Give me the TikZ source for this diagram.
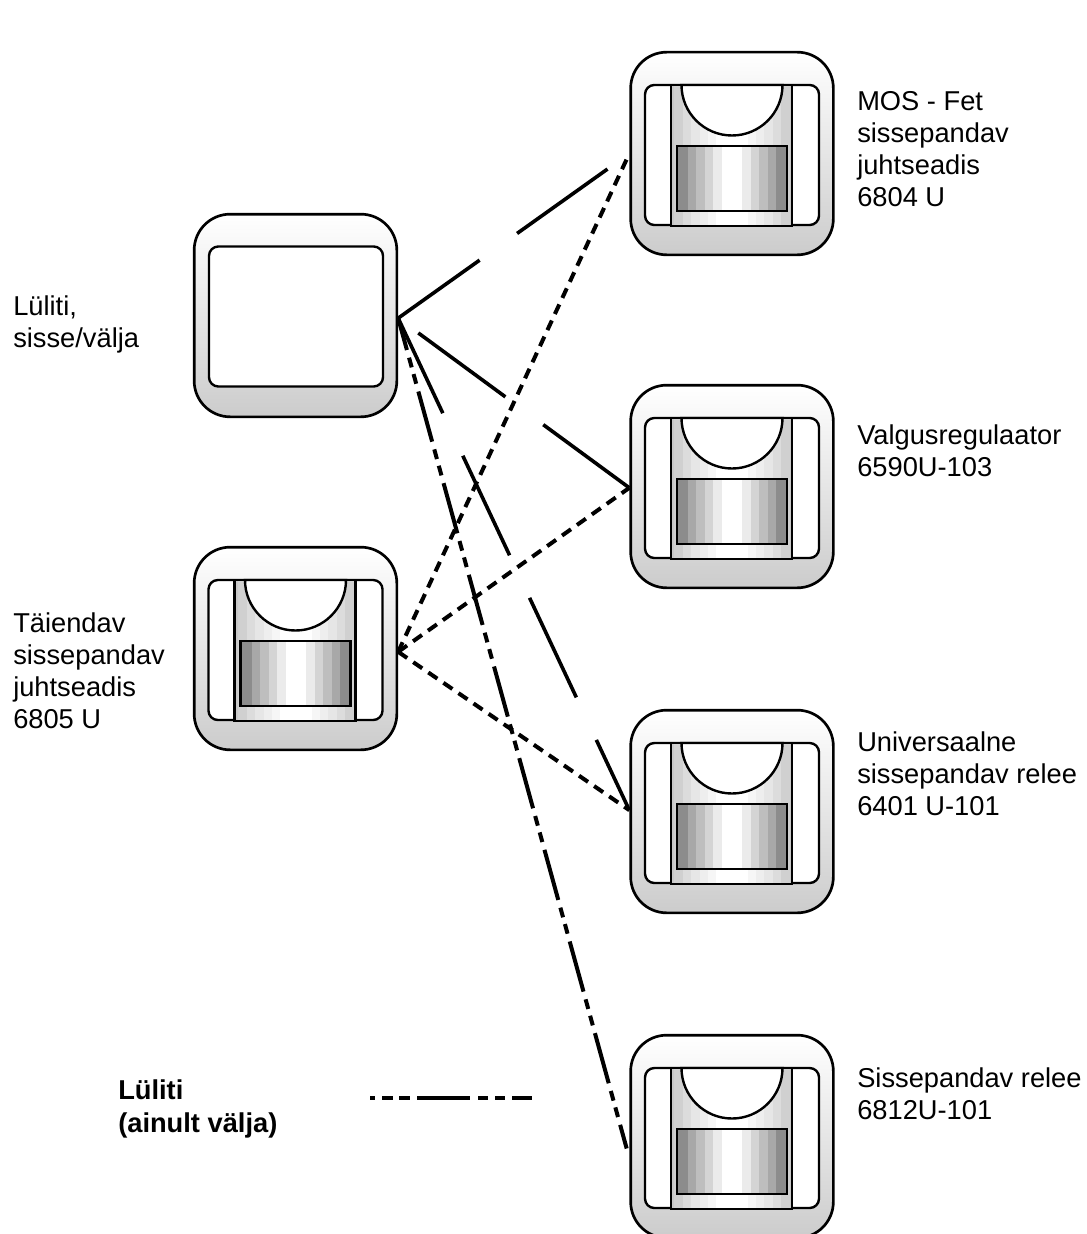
\documentclass[tikz,border=0pt]{standalone}
\usepackage{fontspec}
\setmainfont{Liberation Sans}
\begin{document}
\begin{tikzpicture}[x=0.75pt,y=-0.75pt,
  outerbox/.style={draw=black,line width=2pt,rounded corners=27pt,minimum width=152pt,minimum height=152pt,inner sep=0pt,
    top color=white,middle color=white!92!black,bottom color=black!20},
  innerbox/.style={draw=black,line width=1.8pt,fill=white,rounded corners=7pt},
  label/.style={anchor=west,align=left,inner sep=0pt,font=\fontsize{20.45pt}{24pt}\selectfont},
  boldlabel/.style={label,font=\fontsize{20.45pt}{24.6pt}\selectfont\bfseries},
  wire/.style={line width=2.7pt,draw=black},
  dots/.style={wire,line width=3pt,dash pattern=on 7.9pt off 5.4pt},
  dotsb/.style={wire,line width=3pt,dash pattern=on 8.2pt off 5.5pt},
  dashdot/.style={wire,line width=3pt,dash pattern=on 39pt off 6pt on 7.5pt off 5.25pt on 7.5pt off 6.05pt,dash phase=14.25pt},
  sensor/.pic={
    \path[innerbox] (-87,-68.5) rectangle (87,71.5);
    \foreach \w/\c in {61/200,58/208,49/220,41/230,32/238,24/246,16/255}{
      \definecolor{bandc}{RGB}{\c,\c,\c}
      \fill[bandc] (-\w,-68.5) rectangle (\w,72.5);
    }
    \draw[black,line width=1.8pt] (-61,-68.5) -- (-61,72.5) -- (60,72.5) -- (60,-68.5) -- cycle;
    \draw[black,line width=1.8pt,fill=white] (-50.5,-68.5) arc[start angle=180,end angle=0,radius=50.5] -- cycle;
    \foreach \w/\c in {55/140,44/168,36/190,27/212,19/235,10/255}{
      \definecolor{bandd}{RGB}{\c,\c,\c}
      \fill[bandd] (-\w,-7.5) rectangle (\w,57.5);
    }
    \draw[black,line width=1.8pt] (-55,-7.5) rectangle (55,57.5);
  }]
\useasboundingbox (0,0) rectangle (1086,1234);
\clip (0,0) rectangle (1086,1234);
\fill[white] (0,0) rectangle (1086,1234);

% devices
\node[outerbox] (sw) at (295.5,315.5) {};
\path[innerbox] (209,246.5) rectangle (383,386.5);
\node[outerbox] (aux) at (295.5,648.5) {};
\pic at (aux) {sensor};
\node[outerbox] (d1) at (732,153.5) {};
\pic at (d1) {sensor};
\node[outerbox] (d2) at (732,486.5) {};
\pic at (d2) {sensor};
\node[outerbox] (d3) at (732,811.5) {};
\pic at (d3) {sensor};
\node[outerbox] (d4) at (732,1136.5) {};
\pic at (d4) {sensor};

% connectors
\draw[wire,dash pattern=on 75pt off 34.5pt on 83.25pt off 34.5pt] ([yshift=-2pt]sw.east) -- (d1.west);
\draw[wire,dash pattern=on 0pt off 18.75pt on 81pt off 35.25pt on 82.5pt off 35.25pt] ([yshift=-2pt]sw.east) -- ([yshift=-1pt]d2.west);
\draw[wire,dash pattern=on 82.5pt off 35.25pt,dash phase=3.75pt] ([yshift=-2pt]sw.east) -- ([yshift=1pt]d3.west);
\draw[dashdot] ([yshift=-2pt]sw.east) -- ([xshift=-2pt,yshift=-9pt]d4.west);
\draw[dots] ([yshift=-2.5pt]aux.east) -- (d1.west);
\draw[dotsb] ([yshift=-2.5pt]aux.east) -- ([yshift=-1pt]d2.west);
\draw[dotsb] ([yshift=-2.5pt]aux.east) -- ([yshift=1pt]d3.west);

% labels
\node[label] (t1) at (857,149) {MOS - Fet\\sissepandav\\juhtseadis\\6804 U};
\node[label] (t2) at (857,451) {Valgusregulaator\\6590U-103};
\node[label] (t3) at (857,774) {Universaalne\\sissepandav relee\\6401 U-101};
\node[label] (t4) at (857,1094) {Sissepandav relee\\6812U-101};
\node[label] (t5) at (13,324) {Lüliti,\\sisse/välja};
\node[label] (t6) at (13,671) {Täiendav\\sissepandav\\juhtseadis\\6805 U};
\node[boldlabel] (t7) at (118,1109) {Lüliti\\(ainult välja)};

% legend
\coordinate (la) at (370,1098);
\coordinate (lb) at (532,1098);
\draw[wire,line width=3.2pt,dash pattern=on 3.75pt off 5.25pt on 8.25pt off 4.5pt on 8.25pt off 5.25pt on 39.75pt off 6pt on 7.5pt off 5.25pt on 7.5pt off 5.25pt on 15pt off 50pt] (la) -- (lb);
\end{tikzpicture}
\end{document}
